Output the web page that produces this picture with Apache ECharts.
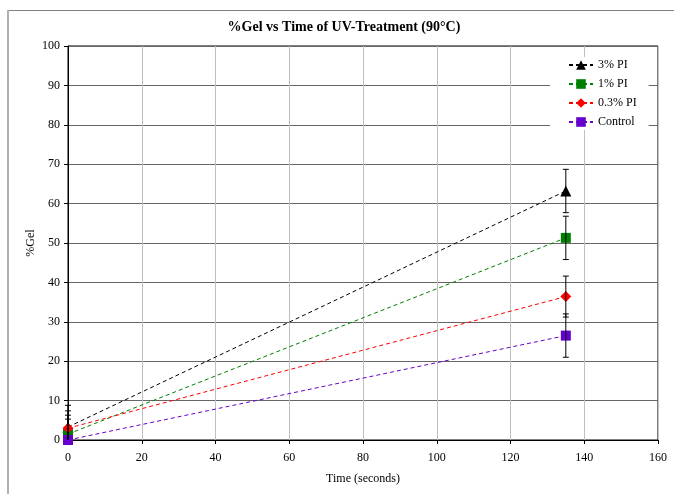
<!DOCTYPE html>
<html>
<head>
<meta charset="utf-8">
<script src="https://cdn.jsdelivr.net/npm/echarts@6/dist/echarts.min.js"></script>
<style>html,body{margin:0;padding:0;background:#fff}#c{width:674px;height:494px}</style>
</head>
<body>
<div id="c"></div>
<script>
const times = [0, 135];
const seriesNames = ['3% PI', '1% PI', '0.3% PI', 'Control'];
const pi3 = [3.3, 63.2];
const pi1 = [1.5, 51.3];
const pi03 = [3.0, 36.4];
const control = [0, 26.5];
const err3 = [5.5, 5.5];
const err1 = [4.8, 5.5];
const err03 = [4.4, 5.2];
const errC = [5.3, 5.5];
const xTicks = [0, 20, 40, 60, 80, 100, 120, 140, 160];
const yTicks = [0, 10, 20, 30, 40, 50, 60, 70, 80, 90, 100];

const font = 'Liberation Serif, Times New Roman, serif';
const colors = ['#000000', '#008000', '#ff0000', '#6600cc'];
const symbols = ['triangle', 'rect', 'diamond', 'rect'];
const symSizes = [11, 10, 11, 10];
const values = [pi3, pi1, pi03, control];
const errs = [err3, err1, err03, errC];
const yMin = 0, yMax = 100;

const chart = echarts.init(document.getElementById('c'), null, {renderer: 'canvas'});

const lineSeries = seriesNames.map((n, i) => ({
  name: n,
  type: 'line',
  data: times.map((t, j) => [t, values[i][j]]),
  symbol: symbols[i],
  symbolSize: symSizes[i],
  showAllSymbol: true,
  itemStyle: {color: colors[i]},
  lineStyle: {color: colors[i], width: 1, type: [4, 3]},
  z: 5
}));

const errSeries = seriesNames.map((n, i) => ({
  name: n + ' err',
  type: 'custom',
  z: 6,
  data: times.map((t, j) => [t, values[i][j] - errs[i][j], values[i][j] + errs[i][j]]),
  renderItem: function (params, api) {
    const loV = Math.max(api.value(1), yMin);
    const hiV = Math.min(api.value(2), yMax);
    const lo = api.coord([api.value(0), loV]);
    const hi = api.coord([api.value(0), hiV]);
    const w = 3;
    const st = {stroke: '#000', lineWidth: 1};
    const children = [
      {type: 'line', shape: {x1: lo[0], y1: lo[1], x2: hi[0], y2: hi[1]}, style: st},
      {type: 'line', shape: {x1: hi[0] - w, y1: hi[1], x2: hi[0] + w, y2: hi[1]}, style: st}
    ];
    if (api.value(1) >= yMin) {
      children.push({type: 'line', shape: {x1: lo[0] - w, y1: lo[1], x2: lo[0] + w, y2: lo[1]}, style: st});
    }
    return {type: 'group', children: children};
  }
}));

chart.setOption({
  animation: false,
  backgroundColor: '#fff',
  title: {
    text: '%Gel vs Time of UV-Treatment (90°C)',
    left: 339, top: 15, textAlign: 'center',
    textStyle: {fontFamily: font, fontSize: 14, fontWeight: 'bold', color: '#000'}
  },
  grid: {left: 68, right: 16, top: 46, bottom: 54, show: true, borderColor: '#000', borderWidth: 1},
  legend: {
    data: seriesNames,
    orient: 'vertical',
    left: 550, top: 57,
    backgroundColor: '#fff',
    padding: [2, 12, 2, 18],
    itemWidth: 24, itemHeight: 12, itemGap: 7,
    textStyle: {fontFamily: font, fontSize: 12, color: '#000'}
  },
  xAxis: {
    type: 'value', min: 0, max: 160, interval: 20,
    name: 'Time (seconds)', nameLocation: 'middle', nameGap: 33, nameMoveOverlap: false,
    nameTextStyle: {fontFamily: font, fontSize: 12, color: '#000'},
    axisLine: {show: true, onZero: false, lineStyle: {color: '#000'}},
    axisTick: {show: true, length: 4, lineStyle: {color: '#000'}},
    axisLabel: {fontFamily: font, fontSize: 12, color: '#000', margin: 12, showMinLabel: true, showMaxLabel: true,
      formatter: v => xTicks.includes(v) ? String(v) : ''},
    splitLine: {show: true, lineStyle: {color: '#c0c0c0', width: 1}}
  },
  yAxis: {
    type: 'value', min: yMin, max: yMax, interval: 10,
    name: '%Gel', nameLocation: 'middle', nameGap: 31, nameMoveOverlap: false,
    nameTextStyle: {fontFamily: font, fontSize: 12, color: '#000'},
    axisLine: {show: true, onZero: false, lineStyle: {color: '#000'}},
    axisTick: {show: true, length: 4, lineStyle: {color: '#000'}},
    axisLabel: {fontFamily: font, fontSize: 12, color: '#000', margin: 8, showMinLabel: true, showMaxLabel: true,
      formatter: v => yTicks.includes(v) ? String(v) : ''},
    splitLine: {show: true, lineStyle: {color: '#666', width: 1}}
  },
  graphic: [
    {type: 'line', shape: {x1: 8, y1: 10.5, x2: 674, y2: 10.5}, style: {stroke: '#808080', lineWidth: 1}, silent: true},
    {type: 'line', shape: {x1: 8, y1: 10, x2: 8, y2: 494}, style: {stroke: '#b0b0b0', lineWidth: 2}, silent: true}
  ],
  series: lineSeries.concat(errSeries)
});
</script>
</body>
</html>
